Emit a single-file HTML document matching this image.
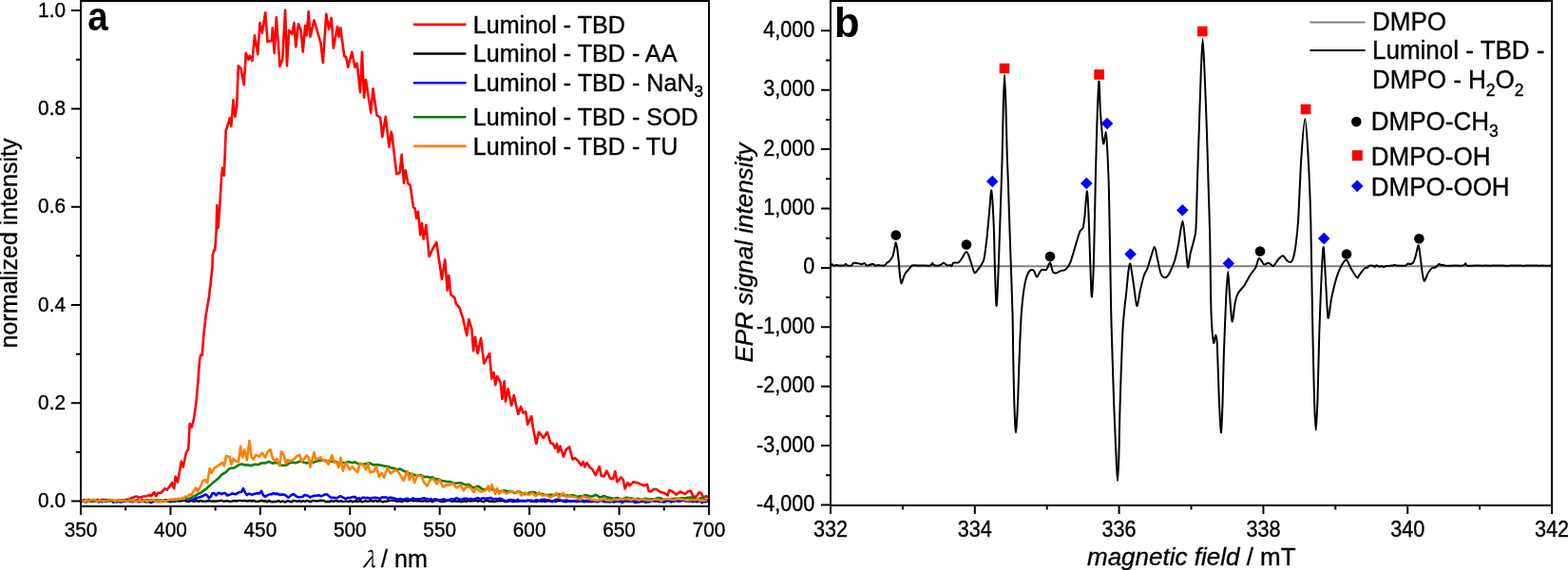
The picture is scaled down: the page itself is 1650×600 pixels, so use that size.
<!DOCTYPE html>
<html><head><meta charset="utf-8"><title>figure</title><style>html,body{margin:0;padding:0;background:#fff;overflow:hidden}svg{display:block}</style></head><body>
<svg width="1650" height="600" viewBox="0 0 1650 600">
<rect width="1650" height="600" fill="#fff"/>
<g fill="none" stroke-linejoin="round" stroke-linecap="round">
<polyline points="85.0,527.2 87.0,526.5 89.0,526.2 91.0,527.1 93.0,526.0 95.0,526.9 97.0,526.6 99.0,526.0 101.0,526.8 103.0,526.0 105.0,526.7 107.0,526.0 109.0,526.1 111.0,526.7 113.0,527.4 115.0,526.1 117.0,526.3 119.0,527.0 121.0,527.6 125.0,526.5 130.0,526.6 133.0,525.8 136.0,525.5 139.0,524.0 143.5,522.5 146.5,523.7 151.0,522.5 154.7,522.2 157.0,521.0 159.2,522.2 162.2,518.0 164.2,522.5 166.0,518.7 169.7,518.7 173.5,514.2 175.7,515.7 178.0,512.7 181.0,508.2 183.2,514.2 184.7,501.5 187.0,507.5 189.2,494.7 190.7,485.7 192.7,491.7 196.0,476.0 198.2,473.0 199.7,446.0 201.7,449.7 204.2,440.0 206.7,421.3 208.5,400.0 210.1,378.7 211.2,373.9 212.8,373.9 213.3,365.3 214.7,349.3 216.5,333.3 220.0,312.0 221.9,296.0 223.5,280.0 223.8,268.7 225.1,263.3 226.2,263.3 227.6,244.0 228.3,216.0 229.5,240.0 231.0,222.0 233.1,186.0 234.2,176.7 235.8,184.7 237.7,138.0 242.0,124.0 243.3,133.0 245.5,105.0 247.3,122.7 249.2,112.0 250.8,69.3 253.5,72.0 256.7,89.3 258.8,56.0 261.5,62.7 262.8,58.7 265.5,64.0 268.0,37.3 271.3,57.3 273.5,24.0 275.9,34.7 279.3,13.3 281.5,44.0 286.0,42.7 286.8,29.3 288.7,56.0 290.8,18.1 294.5,69.9 297.2,62.7 300.1,10.7 302.0,69.3 304.1,32.0 307.3,36.0 309.5,24.0 311.3,49.3 314.0,25.3 316.7,32.0 318.8,54.7 321.2,26.7 322.8,37.3 324.7,12.0 326.5,38.7 330.5,21.3 334.0,33.3 337.5,45.3 339.9,66.1 343.3,14.7 346.0,30.7 348.7,18.7 350.9,50.7 355.1,28.0 356.5,38.7 358.3,29.3 362.3,59.2 364.2,60.0 366.3,70.7 370.3,54.7 373.5,70.7 375.7,66.7 379.1,97.3 381.0,54.7 383.1,102.7 385.0,84.0 390.3,118.7 392.5,93.3 396.5,121.3 400.2,124.0 402.3,144.0 405.8,122.7 409.5,154.7 411.7,138.7 412.7,143.3 417.3,183.3 420.7,181.7 422.7,162.7 425.0,192.7 426.7,179.3 429.3,192.7 431.7,195.0 435.0,218.3 436.7,219.3 438.3,230.0 440.0,222.7 442.3,247.3 444.0,235.0 445.7,251.7 448.3,236.7 451.7,270.0 455.0,262.7 459.3,255.0 465.0,294.0 468.3,273.3 470.7,305.7 472.3,290.0 474.3,310.0 478.3,313.3 480.0,320.0 483.3,323.3 486.7,333.3 491.2,353.3 493.3,336.0 496.5,346.7 498.1,369.3 500.0,354.7 502.7,372.0 506.1,356.0 509.3,382.7 515.2,372.0 517.3,398.7 519.5,392.0 521.3,405.3 523.2,396.0 526.7,402.7 528.5,420.0 530.7,401.3 532.0,422.7 534.7,409.3 538.1,426.7 540.8,416.0 545.3,436.0 548.0,428.0 550.7,434.7 553.3,433.3 555.2,446.7 559.2,438.1 560.8,450.0 564.3,467.1 567.0,454.8 571.8,460.9 575.9,454.8 579.3,466.4 582.0,467.1 584.1,471.9 586.1,467.1 587.5,476.0 589.5,469.8 593.0,480.7 595.7,473.2 599.1,470.5 602.5,483.5 605.2,482.1 608.2,485.1 611.4,489.8 613.7,485.9 615.3,491.4 617.7,487.2 620.9,492.2 623.2,493.8 626.7,500.1 630.8,491.0 632.7,500.9 635.9,501.4 638.3,495.7 642.2,503.6 645.1,504.1 647.4,496.2 649.3,507.2 650.9,505.7 653.6,502.5 655.7,504.9 657.7,514.4 660.4,508.0 662.8,511.2 666.7,507.2 672.3,508.8 677.0,511.2 681.0,509.9 682.6,516.7 684.9,517.5 688.1,514.7 691.3,515.2 694.4,517.8 699.2,519.1 702.7,521.5 704.2,516.0 707.9,517.5 711.8,520.7 715.8,517.5 719.0,519.1 721.3,519.9 723.7,517.5 726.9,516.7 729.2,522.3 732.4,523.1 735.6,518.3 737.9,519.1 740.3,523.9 742.7,522.3 745.0,523.1" stroke="#ff0000" stroke-width="2.6"/>
<polyline points="85.0,527.3 87.0,527.4 89.0,528.1 91.0,528.3 93.0,527.3 95.0,527.0 97.0,527.9 99.0,527.0 101.0,526.7 103.0,528.1 105.0,527.4 107.0,528.0 109.0,527.3 111.0,528.1 113.0,527.4 115.0,527.0 117.0,526.7 119.0,527.6 121.0,527.7 123.0,528.2 125.0,526.8 127.0,527.7 129.0,527.3 131.0,527.5 133.0,526.9 135.0,527.2 137.0,527.5 139.0,528.2 141.0,526.9 143.0,527.5 145.0,528.0 147.0,528.2 149.0,527.0 151.0,526.9 153.0,528.2 155.0,528.3 157.0,527.5 159.0,526.8 161.0,528.2 163.0,527.3 165.0,528.1 167.0,527.7 169.0,528.0 171.0,527.0 173.0,528.0 175.0,527.1 177.0,527.3 179.0,528.1 181.0,528.0 183.0,527.0 185.0,527.0 187.0,527.3 189.0,527.5 191.0,527.3 193.0,526.9 195.0,527.1 197.0,527.9 199.0,528.1 201.0,526.8 203.0,527.6 205.0,527.9 207.0,526.8 209.0,528.0 211.0,526.9 213.0,527.7 215.0,527.6 217.0,527.7 219.0,527.2 221.0,527.4 223.0,527.6 225.0,527.4 227.0,527.8 229.0,527.4 231.0,527.4 233.0,526.7 235.0,527.7 237.0,527.5 239.0,527.1 241.0,527.9 243.0,527.9 245.0,527.4 247.0,527.0 249.0,527.5 251.0,526.9 253.0,526.9 255.0,527.4 257.0,526.8 259.0,527.4 261.0,527.5 263.0,526.8 265.0,527.7 267.0,526.8 269.0,527.9 271.0,527.9 273.0,527.5 275.0,526.8 277.0,527.5 279.0,527.3 281.0,528.2 283.0,526.9 285.0,528.1 287.0,528.3 289.0,527.9 291.0,528.0 293.0,527.0 295.0,528.3 297.0,527.5 299.0,528.2 301.0,528.2 303.0,527.0 305.0,528.0 307.0,528.2 309.0,526.8 311.0,527.3 313.0,527.9 315.0,527.0 317.0,528.1 319.0,527.1 321.0,528.0 323.0,526.9 325.0,527.5 327.0,528.2 329.0,527.0 331.0,527.1 333.0,527.5 335.0,527.2 337.0,526.8 339.0,527.0 341.0,527.0 343.0,528.2 345.0,527.8 347.0,528.1 349.0,527.0 351.0,528.0 353.0,526.9 355.0,527.5 357.0,527.7 359.0,527.3 361.0,528.1 363.0,527.6 365.0,527.6 367.0,528.1 369.0,526.9 371.0,528.3 373.0,527.7 375.0,527.3 377.0,528.0 379.0,527.1 381.0,528.3 383.0,527.6 385.0,527.3 387.0,527.9 389.0,527.4 391.0,527.0 393.0,527.9 395.0,526.8 397.0,528.0 399.0,527.1 401.0,527.7 403.0,528.3 405.0,527.6 407.0,527.8 409.0,527.2 411.0,526.7 413.0,526.8 415.0,526.9 417.0,527.7 419.0,527.4 421.0,527.5 423.0,528.1 425.0,526.9 427.0,527.1 429.0,527.7 431.0,526.7 433.0,526.7 435.0,527.3 437.0,526.9 439.0,527.3 441.0,527.1 443.0,527.6 445.0,527.6 447.0,527.0 449.0,527.7 451.0,527.5 453.0,526.9 455.0,528.2 457.0,527.1 459.0,526.9 461.0,526.9 463.0,527.7 465.0,528.1 467.0,528.0 469.0,527.3 471.0,527.1 473.0,526.7 475.0,527.7 477.0,527.6 479.0,527.3 481.0,527.7 483.0,527.4 485.0,528.2 487.0,527.9 489.0,527.1 491.0,528.1 493.0,526.8 495.0,527.6 497.0,527.3 499.0,527.1 501.0,526.8 503.0,527.9 505.0,526.7 507.0,527.6 509.0,528.2 511.0,526.9 513.0,527.0 515.0,527.7 517.0,527.5 519.0,527.7 521.0,528.0 523.0,527.0 525.0,527.2 527.0,527.2 529.0,526.8 531.0,528.1 533.0,528.0 535.0,527.8 537.0,526.7 539.0,528.1 541.0,527.9 543.0,527.4 545.0,527.9 547.0,527.4 549.0,527.1 551.0,526.9 553.0,527.1 555.0,526.8 557.0,527.2 559.0,527.9 561.0,527.8 563.0,528.1 565.0,527.8 567.0,527.1 569.0,527.6 571.0,527.4 573.0,528.0 575.0,527.5 577.0,527.1 579.0,527.7 581.0,528.2 583.0,527.0 585.0,528.1 587.0,526.7 589.0,527.1 591.0,527.1 593.0,527.9 595.0,528.2 597.0,527.9 599.0,527.2 601.0,528.1 603.0,527.2 605.0,527.1 607.0,528.2 609.0,527.7 611.0,527.8 613.0,527.8 615.0,528.3 617.0,527.5 619.0,528.0 621.0,527.8 623.0,528.1 625.0,527.4 627.0,527.9 629.0,527.6 631.0,527.2 633.0,527.0 635.0,527.7 637.0,526.8 639.0,528.2 641.0,526.9 643.0,526.7 645.0,526.9 647.0,528.2 649.0,527.3 651.0,526.9 653.0,526.7 655.0,526.8 657.0,527.8 659.0,527.7 661.0,527.8 663.0,527.9 665.0,526.8 667.0,527.6 669.0,527.3 671.0,528.0 673.0,528.0 675.0,528.1 677.0,526.8 679.0,528.1 681.0,528.2 683.0,528.2 685.0,526.9 687.0,527.0 689.0,526.9 691.0,526.8 693.0,528.1 695.0,528.0 697.0,527.7 699.0,528.0 701.0,527.7 703.0,527.2 705.0,526.9 707.0,526.9 709.0,527.9 711.0,527.0 713.0,527.2 715.0,527.4 717.0,526.7 719.0,527.1 721.0,527.2 723.0,527.8 725.0,527.3 727.0,527.2 729.0,528.2 731.0,527.5 733.0,528.1 735.0,527.7 737.0,526.7 739.0,527.4 741.0,527.4 743.0,527.9 745.0,527.3" stroke="#000" stroke-width="2.4"/>
<polyline points="85.0,527.4 86.9,527.7 88.8,526.5 90.7,528.1 92.6,527.5 94.5,527.6 96.4,527.8 98.3,527.5 100.2,526.8 102.1,527.1 104.0,528.5 105.9,527.3 107.8,528.1 109.7,526.2 111.6,526.0 113.5,526.7 115.4,526.4 117.3,526.5 119.2,528.7 121.1,528.1 123.0,528.1 124.9,527.8 126.8,528.4 128.7,528.1 130.6,526.6 132.5,527.9 134.4,527.0 136.3,527.9 138.2,527.3 140.1,528.0 142.0,527.3 143.9,526.7 145.8,526.6 147.7,527.4 149.6,525.9 151.5,527.0 153.4,527.3 155.3,526.5 157.2,528.3 159.1,529.1 161.0,526.9 162.9,527.4 164.8,526.9 166.7,527.7 168.6,527.6 170.5,527.0 172.4,527.0 174.3,526.3 176.2,527.3 178.1,526.8 180.0,526.7 181.9,527.8 183.8,527.9 185.7,526.8 187.6,526.1 189.5,526.1 191.4,525.8 193.3,526.1 195.2,525.5 197.1,525.6 199.0,525.5 200.9,525.8 202.8,526.0 204.7,525.3 206.6,524.2 208.5,523.7 210.4,523.4 212.3,522.5 214.2,521.7 216.1,520.5 218.0,521.4 219.9,524.5 221.8,522.7 223.7,519.2 225.6,519.3 227.5,521.4 229.4,519.1 231.3,519.0 233.2,520.1 235.1,519.3 237.0,519.0 238.9,521.4 240.8,521.1 242.7,520.4 244.6,519.4 246.5,520.0 248.4,520.1 250.3,518.9 252.2,517.9 254.1,518.0 256.0,514.1 257.9,518.5 259.8,521.1 261.7,519.8 263.6,520.1 265.5,520.8 267.4,519.9 269.3,519.5 271.2,519.3 273.1,519.4 275.0,516.8 276.9,521.0 278.8,522.9 280.7,521.7 282.6,520.9 284.5,520.1 286.4,520.1 288.3,519.0 290.2,520.3 292.1,519.5 294.0,520.9 295.9,520.6 297.8,520.6 299.7,520.9 301.6,522.3 303.5,523.7 305.4,522.3 307.3,520.6 309.2,520.3 311.1,521.9 313.0,523.1 314.9,523.2 316.8,523.2 318.7,522.7 320.6,520.9 322.5,521.4 324.4,522.0 326.3,523.6 328.2,522.6 330.1,521.9 332.0,521.7 333.9,521.6 335.8,521.3 337.7,522.3 339.6,521.6 341.5,520.8 343.4,520.2 345.3,521.4 347.2,523.1 349.1,524.0 351.0,523.7 352.9,524.1 354.8,524.2 356.7,522.8 358.6,522.3 360.5,523.5 362.4,524.4 364.3,524.9 366.2,523.9 368.1,524.0 370.0,523.5 371.9,523.1 373.8,523.1 375.7,525.5 377.6,524.3 379.5,525.1 381.4,523.9 383.3,523.7 385.2,524.5 387.1,523.7 389.0,525.0 390.9,524.3 392.8,523.9 394.7,523.9 396.6,524.1 398.5,524.4 400.4,524.8 402.3,523.3 404.2,523.7 406.1,523.3 408.0,524.8 409.9,523.7 411.8,523.8 413.7,524.2 415.6,524.7 417.5,525.5 419.4,525.3 421.3,525.0 423.2,525.7 425.1,525.8 427.0,525.0 428.9,524.7 430.8,526.0 432.7,525.6 434.6,524.3 436.5,525.6 438.4,525.2 440.3,525.3 442.2,525.2 444.1,524.8 446.0,524.3 447.9,524.7 449.8,525.0 451.7,526.3 453.6,525.1 455.5,526.7 457.4,525.3 459.3,525.6 461.2,526.4 463.1,526.5 465.0,526.0 466.9,525.4 468.8,526.4 470.7,526.2 472.6,526.8 474.5,525.2 476.4,525.2 478.3,525.8 480.2,524.1 482.1,524.9 484.0,525.8 485.9,525.9 487.8,524.8 489.7,524.9 491.6,524.9 493.5,526.3 495.4,524.9 497.3,525.6 499.2,525.7 501.1,524.5 503.0,524.2 504.9,525.4 506.8,524.8 508.7,524.3 510.6,525.2 512.5,524.5 514.4,524.5 516.3,523.9 518.2,525.1 520.1,525.3 522.0,525.0 523.9,525.9 525.8,524.6 527.7,525.3 529.6,526.1 531.5,527.3 533.4,527.3 535.3,526.3 537.2,526.1 539.1,526.4 541.0,526.5 542.9,527.3 544.8,525.9 546.7,527.1 548.6,527.1 550.5,527.4 552.4,527.4 554.3,527.2 556.2,526.8 558.1,526.8 560.0,526.9 561.9,527.5 563.8,526.2 565.7,526.3 567.6,527.2 569.5,526.2 571.4,525.8 573.3,525.7 575.2,526.6 577.1,526.2 579.0,527.4 580.9,527.2 582.8,527.4 584.7,526.1 586.6,525.8 588.5,525.9 590.4,526.7 592.3,527.2 594.2,526.8 596.1,526.5 598.0,527.0 599.9,527.4 601.8,527.5 603.7,527.6 605.6,527.8 607.5,527.5 609.4,526.5 611.3,527.8 613.2,526.8 615.1,527.3 617.0,527.0 618.9,527.6 620.8,526.6 622.7,527.0 624.6,527.4 626.5,526.6 628.4,528.4 630.3,527.1 632.2,526.5 634.1,526.8 636.0,528.3 637.9,527.9 639.8,527.5 641.7,528.5 643.6,527.6 645.5,528.4 647.4,526.9 649.3,527.5 651.2,527.9 653.1,527.7 655.0,529.1 656.9,526.4 658.8,527.7 660.7,527.7 662.6,527.1 664.5,527.8 666.4,527.8 668.3,529.0 670.2,528.2 672.1,528.4 674.0,527.2 675.9,526.7 677.8,528.1 679.7,528.9 681.6,526.4 683.5,527.9 685.4,527.3 687.3,526.9 689.2,527.8 691.1,527.2 693.0,526.7 694.9,527.7 696.8,527.8 698.7,528.5 700.6,527.5 702.5,526.6 704.4,527.4 706.3,528.4 708.2,526.9 710.1,526.4 712.0,526.2 713.9,527.9 715.8,527.6 717.7,526.6 719.6,526.4 721.5,526.8 723.4,527.4 725.3,527.5 727.2,527.3 729.1,526.6 731.0,527.8 732.9,528.0 734.8,527.5 736.7,526.8 738.6,529.2 740.5,527.7 742.4,528.3" stroke="#0000ff" stroke-width="2.6"/>
<polyline points="85.0,526.9 87.0,527.2 89.0,527.4 91.0,527.3 93.0,527.2 95.0,527.1 97.0,527.1 99.0,527.1 101.0,527.1 103.0,527.1 105.0,527.1 107.0,527.1 109.0,527.2 111.0,527.4 113.0,527.5 115.0,527.2 117.0,526.9 119.0,526.9 121.0,527.1 123.0,527.1 125.0,527.1 127.0,527.2 129.0,527.1 131.0,526.6 133.0,526.5 135.0,527.0 137.0,527.1 139.0,527.0 141.0,527.0 143.0,527.1 145.0,527.1 147.0,527.2 149.0,527.5 151.0,527.2 153.0,526.9 155.0,526.8 157.0,526.8 159.0,526.5 161.0,526.2 163.0,526.5 165.0,526.8 167.0,526.6 169.0,526.6 171.0,526.9 173.0,527.0 175.0,526.8 177.0,526.3 179.0,526.2 181.0,526.4 183.0,526.5 185.0,526.3 187.0,525.8 189.0,525.8 191.0,525.8 193.0,525.7 195.0,524.8 197.0,524.8 199.0,524.9 201.0,523.8 203.0,522.8 205.0,522.1 207.0,520.8 209.0,519.6 211.0,518.9 213.0,517.4 215.0,515.9 217.0,514.7 219.0,512.6 221.0,510.9 223.0,509.1 225.0,507.3 227.0,505.8 229.0,504.3 231.0,502.4 233.0,499.9 235.0,498.5 237.0,497.6 239.0,495.7 241.0,493.6 243.0,492.8 245.0,492.8 247.0,492.2 249.0,490.9 251.0,489.6 253.0,488.8 255.0,488.5 257.0,489.4 259.0,489.7 261.0,489.3 263.0,489.9 265.0,490.1 267.0,489.0 269.0,488.8 271.0,489.2 273.0,488.5 275.0,487.5 277.0,487.4 279.0,487.5 281.0,486.8 283.0,486.0 285.0,486.7 287.0,487.6 289.0,487.3 291.0,487.1 293.0,487.9 295.0,489.4 297.0,489.9 299.0,489.8 301.0,489.8 303.0,488.5 305.0,487.1 307.0,486.8 309.0,486.9 311.0,487.3 313.0,486.8 315.0,485.7 317.0,485.6 319.0,486.5 321.0,487.0 323.0,487.6 325.0,487.1 327.0,487.0 329.0,487.0 331.0,486.1 333.0,485.4 335.0,485.2 337.0,484.8 339.0,484.5 341.0,484.9 343.0,485.5 345.0,485.2 347.0,485.3 349.0,485.7 351.0,485.8 353.0,485.9 355.0,486.7 357.0,487.3 359.0,486.9 361.0,487.0 363.0,487.2 365.0,486.6 367.0,486.0 369.0,486.7 371.0,487.1 373.0,486.4 375.0,487.0 377.0,488.3 379.0,488.6 381.0,488.5 383.0,488.7 385.0,488.4 387.0,487.5 389.0,487.4 391.0,488.5 393.0,489.4 395.0,489.3 397.0,489.2 399.0,489.4 401.0,489.7 403.0,490.3 405.0,490.8 407.0,490.9 409.0,491.2 411.0,492.2 413.0,492.7 415.0,492.9 417.0,494.1 419.0,494.2 421.0,493.6 423.0,494.6 425.0,495.9 427.0,496.6 429.0,497.6 431.0,498.4 433.0,498.8 435.0,499.4 437.0,500.3 439.0,500.7 441.0,500.3 443.0,500.0 445.0,501.4 447.0,502.3 449.0,501.8 451.0,502.2 453.0,502.8 455.0,502.3 457.0,503.5 459.0,504.7 461.0,504.2 463.0,505.1 465.0,506.2 467.0,506.2 469.0,506.7 471.0,507.1 473.0,507.0 475.0,507.6 477.0,508.4 479.0,508.7 481.0,508.6 483.0,508.2 485.0,508.3 487.0,509.1 489.0,510.2 491.0,510.3 493.0,509.9 495.0,511.1 497.0,513.0 499.0,513.4 501.0,512.3 503.0,511.7 505.0,512.9 507.0,514.5 509.0,515.2 511.0,515.0 513.0,514.8 515.0,514.6 517.0,514.5 519.0,515.6 521.0,515.9 523.0,516.0 525.0,517.2 527.0,517.3 529.0,516.2 531.0,516.2 533.0,517.0 535.0,517.3 537.0,516.9 539.0,517.4 541.0,518.9 543.0,518.7 545.0,517.3 547.0,517.5 549.0,519.1 551.0,519.9 553.0,520.1 555.0,519.4 557.0,518.7 559.0,518.3 561.0,517.9 563.0,518.4 565.0,519.5 567.0,519.9 569.0,519.8 571.0,520.1 573.0,520.7 575.0,521.0 577.0,521.1 579.0,520.9 581.0,520.9 583.0,521.2 585.0,521.0 587.0,520.4 589.0,520.6 591.0,521.0 593.0,521.3 595.0,521.5 597.0,521.6 599.0,521.7 601.0,521.4 603.0,521.2 605.0,522.1 607.0,522.8 609.0,522.6 611.0,522.3 613.0,522.2 615.0,521.4 617.0,521.2 619.0,521.8 621.0,522.3 623.0,522.6 625.0,521.7 627.0,520.9 629.0,522.1 631.0,523.5 633.0,523.0 635.0,522.1 637.0,522.6 639.0,523.6 641.0,523.9 643.0,524.2 645.0,524.7 647.0,524.5 649.0,524.1 651.0,524.6 653.0,525.3 655.0,525.3 657.0,524.6 659.0,523.8 661.0,524.0 663.0,524.5 665.0,524.6 667.0,525.0 669.0,525.2 671.0,524.9 673.0,525.2 675.0,526.1 677.0,525.7 679.0,524.7 681.0,525.2 683.0,525.8 685.0,525.3 687.0,525.2 689.0,525.3 691.0,524.5 693.0,524.0 695.0,524.5 697.0,525.2 699.0,525.6 701.0,525.5 703.0,525.2 705.0,525.4 707.0,525.3 709.0,525.0 711.0,524.8 713.0,524.9 715.0,524.8 717.0,524.2 719.0,524.2 721.0,524.3 723.0,523.9 725.0,523.7 727.0,523.5 729.0,524.1 731.0,525.2 733.0,525.4 735.0,525.0 737.0,524.4 739.0,524.6 741.0,525.7 743.0,526.1 745.0,525.7" stroke="#008000" stroke-width="2.6"/>
<polyline points="85.0,527.3 87.0,526.8 89.0,528.3 91.0,525.9 93.0,528.0 95.0,526.6 97.0,526.2 99.0,526.1 101.0,526.6 103.0,527.9 105.0,526.3 107.0,527.3 109.0,527.5 111.0,526.8 113.0,527.2 115.0,526.0 117.0,526.0 119.0,526.3 121.0,527.6 123.0,526.9 125.0,526.6 127.0,527.3 129.0,527.0 131.0,526.6 133.0,527.9 135.0,527.6 137.0,526.4 139.0,527.3 141.0,527.2 143.0,528.1 145.0,527.7 147.0,526.5 149.0,528.3 151.0,526.1 153.0,526.9 155.0,527.8 157.0,526.2 159.0,527.1 161.0,525.9 163.0,527.5 165.0,527.8 167.0,527.3 169.0,528.1 171.0,526.6 173.0,527.6 175.0,527.3 178.0,526.2 180.0,525.6 182.5,526.3 184.0,524.9 186.0,526.0 188.2,524.6 190.0,525.5 192.0,524.0 193.5,524.8 195.0,522.6 197.0,523.2 199.1,520.6 201.0,521.2 202.5,519.0 206.0,513.5 208.0,517.0 210.7,512.8 213.5,506.0 216.2,505.3 218.3,508.1 220.7,493.0 222.6,497.8 225.8,492.3 230.5,489.6 234.0,486.9 236.0,490.3 238.1,480.0 241.5,480.7 243.5,488.9 245.6,482.8 248.3,485.5 251.0,486.2 253.1,469.8 255.1,481.4 257.2,473.2 259.9,484.2 262.4,463.7 264.7,481.4 266.7,483.5 269.5,478.7 272.9,480.7 275.6,476.6 279.0,481.4 281.8,475.3 284.5,473.2 287.2,483.5 289.3,484.8 291.3,482.8 294.1,490.3 296.1,475.3 298.9,479.4 300.9,487.6 303.0,484.2 305.7,485.5 309.1,483.5 311.8,480.7 315.2,478.7 317.3,485.5 320.0,482.8 322.8,479.4 325.0,482.1 326.6,491.7 330.5,476.0 332.5,484.2 337.3,481.4 340.0,484.8 343.4,484.2 345.5,488.9 349.3,479.4 351.6,486.9 354.4,486.9 356.4,492.3 358.5,481.7 360.8,495.8 363.9,486.9 368.0,494.4 370.8,491.0 372.8,493.7 376.2,497.1 379.0,487.6 382.4,489.6 385.1,494.4 387.2,487.6 389.2,497.1 393.3,496.4 396.0,491.0 398.8,501.9 401.5,497.8 404.2,502.6 407.7,492.6 411.1,498.5 415.2,495.1 418.6,495.8 424.7,506.0 428.6,495.8 430.9,505.3 433.6,498.5 436.3,508.1 439.1,500.5 443.9,501.2 445.9,507.4 449.3,511.5 452.7,505.3 456.1,504.0 459.6,509.4 462.3,504.6 466.4,512.8 469.8,510.1 472.0,511.0 476.8,508.7 480.2,513.5 485.0,510.8 487.8,516.3 491.2,512.2 495.3,513.5 498.7,518.3 500.7,513.5 506.2,517.6 511.0,516.3 513.7,511.5 515.1,516.9 517.5,510.1 521.2,519.7 523.3,514.2 525.3,519.7 528.7,516.3 532.8,519.7 536.9,517.6 542.4,518.3 546.5,517.6 548.6,521.7 552.0,518.3 556.1,521.0 560.2,519.0 563.6,522.4 567.0,518.3 571.1,521.7 575.2,521.0 579.3,523.8 585.4,519.0 588.2,523.8 593.0,519.0 595.7,523.1 601.1,522.4 606.6,523.8 610.7,525.8 613.4,522.4 620.0,524.5 622.0,526.2 624.2,525.9 626.4,526.7 628.6,527.0 630.8,525.9 633.0,526.4 635.2,525.0 637.4,526.4 639.6,526.3 641.8,527.1 644.0,526.7 646.2,525.5 648.4,525.7 650.6,526.4 652.8,524.9 655.0,525.9 657.2,525.3 659.4,525.2 661.6,525.0 663.8,526.6 666.0,525.2 668.2,525.4 670.4,525.8 672.6,526.8 674.8,525.1 677.0,525.9 679.2,526.1 681.4,526.8 683.6,526.7 685.8,526.8 688.0,525.5 690.2,525.8 692.4,525.7 694.6,526.8 696.8,527.0 699.0,525.2 701.2,525.3 703.4,525.4 705.6,525.4 707.8,526.0 710.0,526.2 712.2,525.5 714.4,524.9 716.6,525.8 718.8,525.7 721.0,526.1 723.2,527.0 725.4,526.4 727.6,526.0 729.8,526.3 732.0,526.4 734.2,525.0 736.4,526.9 738.6,526.6 740.8,526.8 743.0,526.7" stroke="#ff8000" stroke-width="2.6"/>
</g>
<rect x="85.0" y="1" width="661.0" height="532.0" fill="none" stroke="#000" stroke-width="2"/>
<path d="M75.0,527.60H85.0M80.0,475.95H85.0M75.0,424.30H85.0M80.0,372.65H85.0M75.0,321.00H85.0M80.0,269.35H85.0M75.0,217.70H85.0M80.0,166.05H85.0M75.0,114.40H85.0M80.0,62.75H85.0M75.0,11.10H85.0M85.00,533V542.0M132.21,533V537.5M179.43,533V542.0M226.64,533V537.5M273.86,533V542.0M321.07,533V537.5M368.29,533V542.0M415.50,533V537.5M462.71,533V542.0M509.93,533V537.5M557.14,533V542.0M604.36,533V537.5M651.57,533V542.0M698.79,533V537.5M746.00,533V542.0" stroke="#000" stroke-width="2" fill="none"/>
<text transform="translate(69.00,534.30) scale(1,1.04)" text-anchor="end" stroke="#000" stroke-width="0.35" style="font-family:'Liberation Sans',Arial,sans-serif;font-size:20.8px">0.0</text>
<text transform="translate(69.00,431.00) scale(1,1.04)" text-anchor="end" stroke="#000" stroke-width="0.35" style="font-family:'Liberation Sans',Arial,sans-serif;font-size:20.8px">0.2</text>
<text transform="translate(69.00,327.70) scale(1,1.04)" text-anchor="end" stroke="#000" stroke-width="0.35" style="font-family:'Liberation Sans',Arial,sans-serif;font-size:20.8px">0.4</text>
<text transform="translate(69.00,224.40) scale(1,1.04)" text-anchor="end" stroke="#000" stroke-width="0.35" style="font-family:'Liberation Sans',Arial,sans-serif;font-size:20.8px">0.6</text>
<text transform="translate(69.00,121.10) scale(1,1.04)" text-anchor="end" stroke="#000" stroke-width="0.35" style="font-family:'Liberation Sans',Arial,sans-serif;font-size:20.8px">0.8</text>
<text transform="translate(69.00,17.80) scale(1,1.04)" text-anchor="end" stroke="#000" stroke-width="0.35" style="font-family:'Liberation Sans',Arial,sans-serif;font-size:20.8px">1.0</text>
<text transform="translate(85.00,564.50) scale(1,1.04)" text-anchor="middle" stroke="#000" stroke-width="0.35" style="font-family:'Liberation Sans',Arial,sans-serif;font-size:20.8px">350</text>
<text transform="translate(179.43,564.50) scale(1,1.04)" text-anchor="middle" stroke="#000" stroke-width="0.35" style="font-family:'Liberation Sans',Arial,sans-serif;font-size:20.8px">400</text>
<text transform="translate(273.86,564.50) scale(1,1.04)" text-anchor="middle" stroke="#000" stroke-width="0.35" style="font-family:'Liberation Sans',Arial,sans-serif;font-size:20.8px">450</text>
<text transform="translate(368.29,564.50) scale(1,1.04)" text-anchor="middle" stroke="#000" stroke-width="0.35" style="font-family:'Liberation Sans',Arial,sans-serif;font-size:20.8px">500</text>
<text transform="translate(462.71,564.50) scale(1,1.04)" text-anchor="middle" stroke="#000" stroke-width="0.35" style="font-family:'Liberation Sans',Arial,sans-serif;font-size:20.8px">550</text>
<text transform="translate(557.14,564.50) scale(1,1.04)" text-anchor="middle" stroke="#000" stroke-width="0.35" style="font-family:'Liberation Sans',Arial,sans-serif;font-size:20.8px">600</text>
<text transform="translate(651.57,564.50) scale(1,1.04)" text-anchor="middle" stroke="#000" stroke-width="0.35" style="font-family:'Liberation Sans',Arial,sans-serif;font-size:20.8px">650</text>
<text transform="translate(746.00,564.50) scale(1,1.04)" text-anchor="middle" stroke="#000" stroke-width="0.35" style="font-family:'Liberation Sans',Arial,sans-serif;font-size:20.8px">700</text>
<line x1="435" x2="490.5" y1="25.9" y2="25.9" stroke="#ff0000" stroke-width="2.6"/>
<text transform="translate(497.70,34.50) scale(1,1)" stroke="#000" stroke-width="0.35" style="font-family:'Liberation Sans',Arial,sans-serif;font-size:25.15px">Luminol - TBD</text>
<line x1="435" x2="490.5" y1="56.5" y2="56.5" stroke="#000" stroke-width="2.6"/>
<text transform="translate(497.70,65.10) scale(1,1)" stroke="#000" stroke-width="0.35" style="font-family:'Liberation Sans',Arial,sans-serif;font-size:25.15px">Luminol - TBD - AA</text>
<line x1="435" x2="490.5" y1="87.2" y2="87.2" stroke="#0000ff" stroke-width="2.6"/>
<text transform="translate(497.70,95.80) scale(1,1)" stroke="#000" stroke-width="0.35" style="font-family:'Liberation Sans',Arial,sans-serif;font-size:25.15px">Luminol - TBD - NaN<tspan font-size="17" dy="6.5">3</tspan></text>
<line x1="435" x2="490.5" y1="123.2" y2="123.2" stroke="#008000" stroke-width="2.6"/>
<text transform="translate(497.70,131.80) scale(1,1)" stroke="#000" stroke-width="0.35" style="font-family:'Liberation Sans',Arial,sans-serif;font-size:25.15px">Luminol - TBD - SOD</text>
<line x1="435" x2="490.5" y1="153.9" y2="153.9" stroke="#ff8000" stroke-width="2.6"/>
<text transform="translate(497.70,162.50) scale(1,1)" stroke="#000" stroke-width="0.35" style="font-family:'Liberation Sans',Arial,sans-serif;font-size:25.15px">Luminol - TBD - TU</text>
<text transform="translate(92.20,31.70) scale(0.92,1)" style="font-family:'Liberation Sans',Arial,sans-serif;font-size:42px;font-weight:bold">a</text>
<text transform="translate(17.90,256.00) rotate(-90) scale(1,1)" text-anchor="middle" stroke="#000" stroke-width="0.35" style="font-family:'Liberation Sans',Arial,sans-serif;font-size:25px">normalized intensity</text>
<text transform="translate(381.4,596.7) skewX(-18)" stroke="#000" stroke-width="0.3" style="font-family:'Noto Serif CJK SC',serif;font-size:22.5px">λ</text>
<text transform="translate(401.00,596.60) scale(1,1)" stroke="#000" stroke-width="0.35" style="font-family:'Liberation Sans',Arial,sans-serif;font-size:25.1px">/ nm</text>
<line x1="874.0" x2="1633.0" y1="280.3" y2="280.3" stroke="#808080" stroke-width="2"/>
<path d="M874.50,277.50 C874.66,277.61 875.38,278.05 875.70,278.30 C876.02,278.55 876.23,279.29 876.90,279.40 C877.57,279.51 879.98,279.10 880.70,279.10 C881.42,279.10 881.30,279.36 882.30,279.40 C883.30,279.44 887.17,279.63 888.20,279.40 C889.23,279.17 889.56,277.70 890.00,277.70 C890.44,277.70 890.69,279.17 891.50,279.40 C892.31,279.63 895.26,279.73 896.10,279.40 C896.94,279.07 897.19,277.23 897.80,276.90 C898.41,276.57 900.10,276.89 900.70,276.90 C901.30,276.91 901.75,276.89 902.30,277.00 C902.85,277.11 904.13,277.55 904.80,277.70 C905.47,277.85 906.66,278.21 907.30,278.10 C907.94,277.99 908.93,276.70 909.60,276.90 C910.27,277.10 911.61,279.32 912.30,279.60 C912.99,279.88 913.96,279.25 914.80,279.00 C915.64,278.75 917.87,277.67 918.60,277.70 C919.33,277.73 919.86,278.95 920.30,279.20 C920.74,279.45 921.35,279.63 921.90,279.60 C922.45,279.57 923.84,279.03 924.40,279.00 C924.96,278.97 925.21,279.35 926.10,279.40 C926.99,279.45 930.15,279.76 931.10,279.40 C932.05,279.04 932.75,277.15 933.20,276.70 C933.65,276.25 934.06,276.33 934.50,276.00 C934.94,275.67 935.86,275.00 936.50,274.20 C937.14,273.40 938.67,271.63 939.30,270.00 C939.93,268.37 940.75,264.00 941.20,262.00 C941.65,260.00 942.30,255.00 942.70,255.00 C943.10,255.00 943.80,259.33 944.20,262.00 C944.60,264.67 945.33,271.27 945.70,275.00 C946.07,278.73 946.63,286.89 947.00,290.00 C947.37,293.11 948.07,297.77 948.50,298.30 C948.93,298.83 949.69,295.33 950.20,294.00 C950.71,292.67 951.57,289.61 952.30,288.30 C953.03,286.99 954.70,285.37 955.70,284.20 C956.70,283.03 958.56,280.13 959.80,279.50 C961.04,278.87 963.37,279.50 965.00,279.50 C966.63,279.50 970.13,279.50 972.00,279.50 C973.87,279.50 977.77,279.83 979.00,279.50 C980.23,279.17 980.72,277.03 981.25,277.00 C981.78,276.97 981.97,278.95 983.00,279.25 C984.03,279.55 987.67,279.58 989.00,279.25 C990.33,278.92 991.93,276.72 993.00,276.75 C994.07,276.78 996.13,279.21 997.00,279.50 C997.87,279.79 998.91,278.85 999.50,278.90 C1000.09,278.95 1000.89,280.21 1001.40,279.90 C1001.91,279.59 1002.35,277.07 1003.30,276.60 C1004.25,276.13 1007.30,277.04 1008.50,276.40 C1009.70,275.76 1011.50,272.92 1012.30,271.80 C1013.10,270.68 1013.90,268.91 1014.50,268.00 C1015.10,267.09 1016.20,265.00 1016.80,265.00 C1017.40,265.00 1018.31,266.40 1019.00,268.00 C1019.69,269.60 1021.15,274.45 1022.00,277.00 C1022.85,279.55 1024.49,286.15 1025.40,287.10 C1026.31,288.05 1027.95,285.05 1028.80,284.10 C1029.65,283.15 1030.91,281.55 1031.80,280.00 C1032.69,278.45 1034.58,276.73 1035.50,272.50 C1036.42,268.27 1037.90,255.57 1038.70,248.30 C1039.50,241.03 1040.89,224.37 1041.50,218.00 C1042.11,211.63 1042.74,198.02 1043.30,200.50 C1043.86,202.98 1045.21,225.33 1045.70,236.60 C1046.19,247.87 1046.63,273.64 1047.00,285.00 C1047.37,296.36 1048.10,319.80 1048.50,321.80 C1048.90,323.80 1049.60,308.24 1050.00,300.00 C1050.40,291.76 1051.10,271.33 1051.50,260.00 C1051.90,248.67 1052.60,227.00 1053.00,215.00 C1053.40,203.00 1054.13,184.00 1054.50,170.00 C1054.87,156.00 1055.45,122.17 1055.80,110.00 C1056.15,97.83 1056.75,78.70 1057.10,78.70 C1057.45,78.70 1058.04,98.49 1058.40,110.00 C1058.76,121.51 1059.48,154.33 1059.80,165.00 C1060.12,175.67 1060.36,177.33 1060.80,190.00 C1061.24,202.67 1062.47,241.33 1063.10,260.00 C1063.73,278.67 1065.07,314.00 1065.50,330.00 C1065.93,346.00 1066.07,368.00 1066.30,380.00 C1066.53,392.00 1066.95,411.07 1067.20,420.00 C1067.45,428.93 1067.96,442.27 1068.20,447.00 C1068.44,451.73 1068.79,455.50 1069.00,455.50 C1069.21,455.50 1069.51,451.73 1069.80,447.00 C1070.09,442.27 1070.84,428.93 1071.20,420.00 C1071.56,411.07 1072.02,392.00 1072.50,380.00 C1072.98,368.00 1074.03,340.72 1074.80,330.00 C1075.57,319.28 1077.21,305.52 1078.30,299.60 C1079.39,293.68 1081.76,287.61 1083.00,285.60 C1084.24,283.59 1086.52,283.71 1087.60,284.50 C1088.68,285.29 1090.17,291.35 1091.10,291.50 C1092.03,291.65 1093.75,286.63 1094.60,285.60 C1095.45,284.57 1096.61,284.04 1097.50,283.80 C1098.39,283.56 1100.30,284.80 1101.30,283.80 C1102.30,282.80 1104.11,275.97 1105.00,276.30 C1105.89,276.63 1107.16,284.81 1108.00,286.30 C1108.84,287.79 1110.19,287.67 1111.30,287.50 C1112.41,287.33 1114.97,285.49 1116.30,285.00 C1117.63,284.51 1119.97,284.96 1121.30,283.80 C1122.63,282.64 1124.97,279.47 1126.30,276.30 C1127.63,273.13 1129.97,264.33 1131.30,260.00 C1132.63,255.67 1135.21,246.47 1136.30,243.80 C1137.39,241.13 1138.83,242.00 1139.50,240.00 C1140.17,238.00 1140.73,233.96 1141.30,228.80 C1141.87,223.64 1143.24,201.81 1143.80,201.30 C1144.36,200.79 1145.05,215.17 1145.50,225.00 C1145.95,234.83 1146.76,263.33 1147.20,275.00 C1147.64,286.67 1148.32,311.83 1148.80,312.50 C1149.28,313.17 1150.29,295.00 1150.80,280.00 C1151.31,265.00 1152.15,219.33 1152.60,200.00 C1153.05,180.67 1153.69,150.24 1154.20,135.00 C1154.71,119.76 1155.89,87.93 1156.40,85.70 C1156.91,83.47 1157.39,109.59 1158.00,118.30 C1158.61,127.01 1160.23,148.20 1161.00,151.00 C1161.77,153.80 1163.27,138.99 1163.80,139.30 C1164.33,139.61 1164.59,145.21 1165.00,153.30 C1165.41,161.39 1166.39,179.77 1166.90,200.00 C1167.41,220.23 1168.45,286.33 1168.80,305.00 C1169.15,323.67 1169.05,323.97 1169.50,340.00 C1169.95,356.03 1171.53,406.53 1172.20,425.20 C1172.87,443.87 1173.99,469.20 1174.50,480.00 C1175.01,490.80 1175.61,506.20 1176.00,506.20 C1176.39,506.20 1177.05,490.80 1177.40,480.00 C1177.75,469.20 1178.08,442.53 1178.60,425.20 C1179.12,407.87 1180.67,363.36 1181.30,350.00 C1181.93,336.64 1182.81,330.33 1183.30,325.00 C1183.79,319.67 1184.44,315.33 1185.00,310.00 C1185.56,304.67 1186.90,289.27 1187.50,285.00 C1188.10,280.73 1188.77,276.00 1189.50,278.00 C1190.23,280.00 1192.09,294.13 1193.00,300.00 C1193.91,305.87 1195.37,321.33 1196.30,322.00 C1197.23,322.67 1199.00,309.27 1200.00,305.00 C1201.00,300.73 1202.80,293.00 1203.80,290.00 C1204.80,287.00 1206.50,285.17 1207.50,282.50 C1208.50,279.83 1210.30,273.00 1211.30,270.00 C1212.30,267.00 1214.11,259.67 1215.00,260.00 C1215.89,260.33 1217.16,268.83 1218.00,272.50 C1218.84,276.17 1220.43,284.90 1221.30,287.50 C1222.17,290.10 1223.61,291.49 1224.50,292.00 C1225.39,292.51 1227.09,292.06 1228.00,291.30 C1228.91,290.54 1230.19,288.63 1231.30,286.30 C1232.41,283.97 1235.14,277.64 1236.30,273.80 C1237.46,269.96 1238.91,263.01 1240.00,257.50 C1241.09,251.99 1243.50,232.50 1244.50,232.50 C1245.50,232.50 1246.77,250.99 1247.50,257.50 C1248.23,264.01 1249.33,279.97 1250.00,281.30 C1250.67,282.63 1251.66,271.27 1252.50,267.50 C1253.34,263.73 1255.50,256.67 1256.30,253.00 C1257.10,249.33 1258.01,248.40 1258.50,240.00 C1258.99,231.60 1259.56,204.05 1260.00,190.00 C1260.44,175.95 1261.29,149.93 1261.80,134.60 C1262.31,119.27 1263.29,87.48 1263.80,75.00 C1264.31,62.52 1265.11,41.00 1265.60,41.00 C1266.09,41.00 1266.94,62.52 1267.50,75.00 C1268.06,87.48 1269.25,118.60 1269.80,134.60 C1270.35,150.60 1271.15,179.71 1271.60,195.00 C1272.05,210.29 1272.81,231.65 1273.20,249.30 C1273.59,266.95 1273.99,312.56 1274.50,327.40 C1275.01,342.24 1276.37,357.23 1277.00,360.60 C1277.63,363.97 1278.69,352.49 1279.20,352.70 C1279.71,352.91 1280.32,353.23 1280.80,362.20 C1281.28,371.17 1282.25,407.56 1282.80,420.00 C1283.35,432.44 1284.41,454.83 1284.90,455.50 C1285.39,456.17 1286.11,435.75 1286.50,425.00 C1286.89,414.25 1287.29,390.02 1287.80,374.90 C1288.31,359.78 1289.71,323.49 1290.30,311.60 C1290.89,299.71 1291.69,285.70 1292.20,285.70 C1292.71,285.70 1293.51,304.56 1294.10,311.60 C1294.69,318.64 1295.84,337.65 1296.60,338.50 C1297.36,339.35 1298.96,322.00 1299.80,318.00 C1300.64,314.00 1301.63,310.82 1302.90,308.50 C1304.17,306.18 1307.61,303.13 1309.30,300.60 C1310.99,298.07 1314.00,292.03 1315.60,289.50 C1317.20,286.97 1320.05,283.97 1321.30,281.60 C1322.55,279.23 1323.84,272.14 1325.00,271.70 C1326.16,271.26 1328.67,277.63 1330.00,278.30 C1331.33,278.97 1333.67,276.47 1335.00,276.70 C1336.33,276.93 1338.67,280.45 1340.00,280.00 C1341.33,279.55 1343.67,274.73 1345.00,273.30 C1346.33,271.87 1348.67,269.07 1350.00,269.30 C1351.33,269.53 1353.76,274.24 1355.00,275.00 C1356.24,275.76 1358.27,276.56 1359.30,275.00 C1360.33,273.44 1361.81,268.86 1362.70,263.30 C1363.59,257.74 1365.12,246.18 1366.00,233.30 C1366.88,220.42 1368.33,181.14 1369.30,166.70 C1370.27,152.26 1372.31,125.00 1373.30,125.00 C1374.29,125.00 1375.90,152.26 1376.70,166.70 C1377.50,181.14 1378.73,211.30 1379.30,233.30 C1379.87,255.30 1380.51,306.81 1381.00,331.70 C1381.49,356.59 1382.51,403.85 1383.00,420.00 C1383.49,436.15 1384.23,452.80 1384.70,452.80 C1385.17,452.80 1386.02,433.71 1386.50,420.00 C1386.98,406.29 1387.71,368.13 1388.30,350.00 C1388.89,331.87 1390.30,295.97 1390.90,284.00 C1391.50,272.03 1392.25,258.73 1392.80,260.20 C1393.35,261.67 1394.37,285.07 1395.00,295.00 C1395.63,304.93 1396.67,332.25 1397.50,334.70 C1398.33,337.15 1399.97,319.17 1401.20,313.40 C1402.43,307.63 1405.23,296.05 1406.70,291.40 C1408.17,286.75 1410.83,280.85 1412.20,278.50 C1413.57,276.15 1415.77,273.31 1417.00,273.80 C1418.23,274.29 1419.93,279.76 1421.40,282.20 C1422.87,284.64 1426.85,291.06 1428.00,292.10 C1429.15,293.14 1429.33,290.81 1430.00,290.00 C1430.67,289.19 1432.13,287.07 1433.00,286.00 C1433.87,284.93 1435.70,282.57 1436.50,282.00 C1437.30,281.43 1438.43,282.05 1439.00,281.75 C1439.57,281.45 1439.95,280.02 1440.75,279.75 C1441.55,279.48 1444.20,279.58 1445.00,279.75 C1445.80,279.92 1446.28,281.07 1446.75,281.00 C1447.22,280.93 1447.87,279.28 1448.50,279.25 C1449.13,279.22 1450.83,280.65 1451.50,280.75 C1452.17,280.85 1452.90,279.97 1453.50,280.00 C1454.10,280.03 1455.27,281.00 1456.00,281.00 C1456.73,281.00 1457.80,280.20 1459.00,280.00 C1460.20,279.80 1463.87,279.63 1465.00,279.50 C1466.13,279.37 1466.83,278.99 1467.50,279.00 C1468.17,279.01 1468.47,279.52 1470.00,279.60 C1471.53,279.68 1477.47,279.88 1479.00,279.60 C1480.53,279.32 1480.83,277.71 1481.50,277.50 C1482.17,277.29 1483.27,278.13 1484.00,278.00 C1484.73,277.87 1486.33,277.30 1487.00,276.50 C1487.67,275.70 1488.53,273.40 1489.00,272.00 C1489.47,270.60 1489.99,267.83 1490.50,266.00 C1491.01,264.17 1492.20,257.33 1492.80,258.30 C1493.40,259.27 1494.47,269.34 1495.00,273.30 C1495.53,277.26 1496.31,285.00 1496.80,288.00 C1497.29,291.00 1498.14,295.33 1498.70,295.80 C1499.26,296.27 1500.43,292.67 1501.00,291.50 C1501.57,290.33 1502.20,288.27 1503.00,287.00 C1503.80,285.73 1506.00,282.73 1507.00,282.00 C1508.00,281.27 1509.50,282.03 1510.50,281.50 C1511.50,280.97 1513.70,278.30 1514.50,278.00 C1515.30,277.70 1515.97,279.15 1516.50,279.25 C1517.03,279.35 1517.83,278.68 1518.50,278.75 C1519.17,278.82 1519.97,279.65 1521.50,279.75 C1523.03,279.85 1527.67,279.52 1530.00,279.50 C1532.33,279.48 1537.53,279.72 1539.00,279.60 C1540.47,279.48 1540.57,278.91 1541.00,278.60 C1541.43,278.29 1541.88,277.12 1542.25,277.25 C1542.62,277.38 1542.98,279.28 1543.75,279.60 C1544.52,279.92 1546.90,279.66 1548.00,279.66 C1549.10,279.66 1550.93,279.63 1552.00,279.61 C1553.07,279.59 1554.93,279.50 1556.00,279.51 C1557.07,279.53 1558.93,279.71 1560.00,279.71 C1561.07,279.70 1562.93,279.48 1564.00,279.48 C1565.07,279.48 1566.93,279.69 1568.00,279.70 C1569.07,279.70 1570.93,279.53 1572.00,279.50 C1573.07,279.47 1574.93,279.45 1576.00,279.45 C1577.07,279.45 1578.93,279.48 1580.00,279.51 C1581.07,279.54 1582.93,279.65 1584.00,279.68 C1585.07,279.71 1586.93,279.77 1588.00,279.74 C1589.07,279.71 1590.93,279.47 1592.00,279.45 C1593.07,279.43 1594.93,279.58 1596.00,279.60 C1597.07,279.62 1598.93,279.59 1600.00,279.60 C1601.07,279.61 1602.93,279.70 1604.00,279.69 C1605.07,279.68 1606.93,279.52 1608.00,279.51 C1609.07,279.49 1610.93,279.59 1612.00,279.60 C1613.07,279.60 1614.93,279.54 1616.00,279.55 C1617.07,279.57 1618.93,279.70 1620.00,279.70 C1621.07,279.70 1622.93,279.52 1624.00,279.53 C1625.07,279.53 1626.80,279.72 1628.00,279.73 C1629.20,279.74 1632.33,279.62 1633.00,279.60" fill="none" stroke="#000" stroke-width="2" stroke-linejoin="round"/>
<circle cx="942.8" cy="247.5" r="5.3" fill="#000"/>
<circle cx="1017.0" cy="257.5" r="5.3" fill="#000"/>
<circle cx="1105.0" cy="270.0" r="5.3" fill="#000"/>
<circle cx="1326.0" cy="264.5" r="5.3" fill="#000"/>
<circle cx="1417.0" cy="267.5" r="5.3" fill="#000"/>
<circle cx="1493.3" cy="251.2" r="5.3" fill="#000"/>
<rect x="1051.7" y="66.7" width="10.6" height="10.6" fill="#ff0000"/>
<rect x="1151.3" y="73.2" width="10.6" height="10.6" fill="#ff0000"/>
<rect x="1260.0" y="27.7" width="10.6" height="10.6" fill="#ff0000"/>
<rect x="1368.7" y="109.7" width="10.6" height="10.6" fill="#ff0000"/>
<path d="M1044.3,184.7l6.3,6.3l-6.3,6.3l-6.3,-6.3z" fill="#0000ff"/>
<path d="M1143.3,186.7l6.3,6.3l-6.3,6.3l-6.3,-6.3z" fill="#0000ff"/>
<path d="M1165.0,123.7l6.3,6.3l-6.3,6.3l-6.3,-6.3z" fill="#0000ff"/>
<path d="M1189.5,261.2l6.3,6.3l-6.3,6.3l-6.3,-6.3z" fill="#0000ff"/>
<path d="M1244.3,215.0l6.3,6.3l-6.3,6.3l-6.3,-6.3z" fill="#0000ff"/>
<path d="M1292.8,270.9l6.3,6.3l-6.3,6.3l-6.3,-6.3z" fill="#0000ff"/>
<path d="M1393.2,244.7l6.3,6.3l-6.3,6.3l-6.3,-6.3z" fill="#0000ff"/>
<rect x="874.0" y="1" width="759.0" height="531.0" fill="none" stroke="#000" stroke-width="2"/>
<path d="M864.0,531.50H874.0M869.0,500.30H874.0M864.0,469.10H874.0M869.0,437.90H874.0M864.0,406.70H874.0M869.0,375.50H874.0M864.0,344.30H874.0M869.0,313.10H874.0M864.0,281.90H874.0M869.0,250.70H874.0M864.0,219.50H874.0M869.0,188.30H874.0M864.0,157.10H874.0M869.0,125.90H874.0M864.0,94.70H874.0M869.0,63.50H874.0M864.0,32.30H874.0M874.00,532.0V541.0M949.90,532.0V536.5M1025.80,532.0V541.0M1101.70,532.0V536.5M1177.60,532.0V541.0M1253.50,532.0V536.5M1329.40,532.0V541.0M1405.30,532.0V536.5M1481.20,532.0V541.0M1557.10,532.0V536.5M1633.00,532.0V541.0" stroke="#000" stroke-width="2" fill="none"/>
<text transform="translate(857.20,537.90) scale(1,1.07)" text-anchor="end" stroke="#000" stroke-width="0.35" style="font-family:'Liberation Sans',Arial,sans-serif;font-size:21.6px">-4,000</text>
<text transform="translate(857.20,475.50) scale(1,1.07)" text-anchor="end" stroke="#000" stroke-width="0.35" style="font-family:'Liberation Sans',Arial,sans-serif;font-size:21.6px">-3,000</text>
<text transform="translate(857.20,413.10) scale(1,1.07)" text-anchor="end" stroke="#000" stroke-width="0.35" style="font-family:'Liberation Sans',Arial,sans-serif;font-size:21.6px">-2,000</text>
<text transform="translate(857.20,350.70) scale(1,1.07)" text-anchor="end" stroke="#000" stroke-width="0.35" style="font-family:'Liberation Sans',Arial,sans-serif;font-size:21.6px">-1,000</text>
<text transform="translate(857.20,288.30) scale(1,1.07)" text-anchor="end" stroke="#000" stroke-width="0.35" style="font-family:'Liberation Sans',Arial,sans-serif;font-size:21.6px">0</text>
<text transform="translate(857.20,225.90) scale(1,1.07)" text-anchor="end" stroke="#000" stroke-width="0.35" style="font-family:'Liberation Sans',Arial,sans-serif;font-size:21.6px">1,000</text>
<text transform="translate(857.20,163.50) scale(1,1.07)" text-anchor="end" stroke="#000" stroke-width="0.35" style="font-family:'Liberation Sans',Arial,sans-serif;font-size:21.6px">2,000</text>
<text transform="translate(857.20,101.10) scale(1,1.07)" text-anchor="end" stroke="#000" stroke-width="0.35" style="font-family:'Liberation Sans',Arial,sans-serif;font-size:21.6px">3,000</text>
<text transform="translate(857.20,38.70) scale(1,1.07)" text-anchor="end" stroke="#000" stroke-width="0.35" style="font-family:'Liberation Sans',Arial,sans-serif;font-size:21.6px">4,000</text>
<text transform="translate(874.00,564.80) scale(1,1.07)" text-anchor="middle" stroke="#000" stroke-width="0.35" style="font-family:'Liberation Sans',Arial,sans-serif;font-size:21.6px">332</text>
<text transform="translate(1025.80,564.80) scale(1,1.07)" text-anchor="middle" stroke="#000" stroke-width="0.35" style="font-family:'Liberation Sans',Arial,sans-serif;font-size:21.6px">334</text>
<text transform="translate(1177.60,564.80) scale(1,1.07)" text-anchor="middle" stroke="#000" stroke-width="0.35" style="font-family:'Liberation Sans',Arial,sans-serif;font-size:21.6px">336</text>
<text transform="translate(1329.40,564.80) scale(1,1.07)" text-anchor="middle" stroke="#000" stroke-width="0.35" style="font-family:'Liberation Sans',Arial,sans-serif;font-size:21.6px">338</text>
<text transform="translate(1481.20,564.80) scale(1,1.07)" text-anchor="middle" stroke="#000" stroke-width="0.35" style="font-family:'Liberation Sans',Arial,sans-serif;font-size:21.6px">340</text>
<text transform="translate(1633.00,564.80) scale(1,1.07)" text-anchor="middle" stroke="#000" stroke-width="0.35" style="font-family:'Liberation Sans',Arial,sans-serif;font-size:21.6px">342</text>
<text transform="translate(877.70,39.40) scale(1,1)" style="font-family:'Liberation Sans',Arial,sans-serif;font-size:44px;font-weight:bold">b</text>
<text transform="translate(792.30,266.00) rotate(-90) scale(1,1.02)" text-anchor="middle" stroke="#000" stroke-width="0.35" style="font-family:'Liberation Sans',Arial,sans-serif;font-size:26px;font-style:italic">EPR signal intensity</text>
<text transform="translate(1144.00,594.50) scale(1,1)" stroke="#000" stroke-width="0.35" style="font-family:'Liberation Sans',Arial,sans-serif;font-size:26px"><tspan font-style="italic">magnetic field</tspan> / mT</text>
<line x1="1378.4" x2="1436.5" y1="23.5" y2="23.5" stroke="#808080" stroke-width="2"/>
<line x1="1378.4" x2="1436.5" y1="53" y2="53" stroke="#000" stroke-width="2"/>
<text transform="translate(1444.00,32.10) scale(1,1.04)" stroke="#000" stroke-width="0.35" style="font-family:'Liberation Sans',Arial,sans-serif;font-size:26px">DMPO</text>
<text transform="translate(1444.00,61.90) scale(1,1.04)" stroke="#000" stroke-width="0.35" style="font-family:'Liberation Sans',Arial,sans-serif;font-size:26px">Luminol - TBD -</text>
<text transform="translate(1444.00,93.40) scale(1,1.04)" stroke="#000" stroke-width="0.35" style="font-family:'Liberation Sans',Arial,sans-serif;font-size:26px">DMPO - H<tspan font-size="17.5" dy="7">2</tspan><tspan dy="-7">O</tspan><tspan font-size="17.5" dy="7">2</tspan></text>
<circle cx="1427.3" cy="128.1" r="5.3" fill="#000"/>
<text transform="translate(1442.80,136.50) scale(1,1.04)" stroke="#000" stroke-width="0.35" style="font-family:'Liberation Sans',Arial,sans-serif;font-size:26px">DMPO-CH<tspan font-size="17.5" dy="7">3</tspan></text>
<rect x="1422.8" y="158.2" width="11" height="11" fill="#ff0000"/>
<text transform="translate(1442.80,173.80) scale(1,1.04)" stroke="#000" stroke-width="0.35" style="font-family:'Liberation Sans',Arial,sans-serif;font-size:26px">DMPO-OH</text>
<path d="M1428.2,189.4l6.3,6.4l-6.3,6.4l-6.3,-6.4z" fill="#0000ff"/>
<text transform="translate(1442.80,205.50) scale(1,1.04)" stroke="#000" stroke-width="0.35" style="font-family:'Liberation Sans',Arial,sans-serif;font-size:26px">DMPO-OOH</text>
</svg>
</body></html>
